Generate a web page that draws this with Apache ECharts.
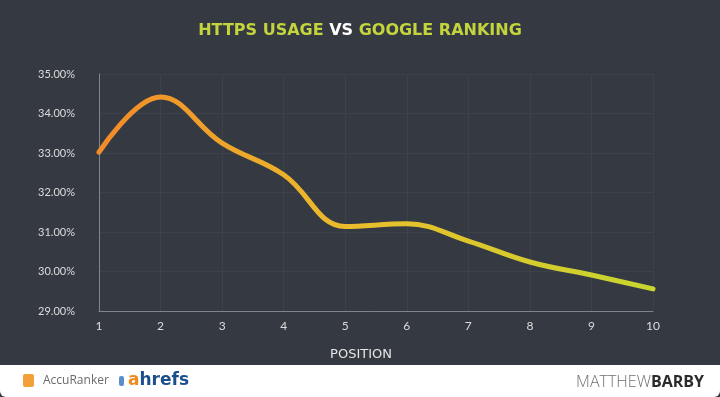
<!DOCTYPE html>
<html>
<head>
<meta charset="utf-8">
<script src="https://cdn.jsdelivr.net/npm/echarts@6/dist/echarts.min.js"></script>
<style>
  html, body { margin: 0; padding: 0; background: #353a42; }
  #chart { width: 720px; height: 397px; }
</style>
</head>
<body>
<div id="chart"></div>
<script>
// positions on the x axis
const positions = ['1', '2', '3', '4', '5', '6', '7', '8', '9', '10']
// share of results using https, in percent
const httpsUsage = [33.02, 34.42, 33.25, 32.45, 31.14, 31.21, 30.77, 30.24, 29.91, 29.56]

const chart = echarts.init(document.getElementById('chart'))
chart.setOption({
  backgroundColor: '#353a42',
  title: {
    left: 'center',
    top: 18,
    text: '{g|HTTPS USAGE }{w|VS}{g| GOOGLE RANKING}',
    textStyle: {
      rich: {
        g: { color: '#c4d43c', fontSize: 16, fontWeight: 'bold', fontFamily: 'DejaVu Sans' },
        w: { color: '#ffffff', fontSize: 16, fontWeight: 'bold', fontFamily: 'DejaVu Sans' }
      }
    }
  },
  grid: {
    left: 99,
    right: 67,
    top: 74,
    bottom: 86
  },
  xAxis: {
    type: 'category',
    data: positions,
    boundaryGap: false,
    name: 'POSITION',
    nameLocation: 'middle',
    nameGap: 37,
    nameTextStyle: { color: '#e6e6e6', fontSize: 13, fontFamily: 'DejaVu Sans', padding: [0, 30, 0, 0] },
    axisLine: { lineStyle: { color: '#80858c', width: 1 } },
    axisTick: { show: false },
    axisLabel: { color: '#dcdcdc', fontSize: 12, margin: 9, fontFamily: 'Lato' },
    splitLine: { show: true, lineStyle: { color: '#3d424a' } }
  },
  yAxis: {
    type: 'value',
    min: 29,
    max: 35,
    interval: 1,
    axisLine: { show: true, lineStyle: { color: '#80858c', width: 1 } },
    axisTick: { show: false },
    axisLabel: {
      color: '#dcdcdc',
      fontSize: 11,
      margin: 24,
      fontFamily: 'Lato',
      formatter: (v) => v.toFixed(2) + '%'
    },
    splitLine: { lineStyle: { color: '#3d424a' } }
  },
  series: [
    {
      type: 'line',
      data: httpsUsage,
      smooth: 0.4,
      symbol: 'none',
      lineStyle: {
        width: 5,
        cap: 'round',
        color: new echarts.graphic.LinearGradient(0, 0, 1, 0, [
          { offset: 0, color: '#f28a29' },
          { offset: 0.45, color: '#eabd2c' },
          { offset: 1, color: '#c8d62f' }
        ])
      }
    }
  ],
  graphic: [
    {
      type: 'rect',
      shape: { x: 0, y: 365, width: 720, height: 32, r: [0, 0, 6, 6] },
      style: { fill: '#ffffff' }
    },
    {
      type: 'rect',
      shape: { x: 23, y: 374, width: 11, height: 13, r: 2 },
      style: { fill: '#f2a03a' }
    },
    {
      type: 'text',
      style: { x: 43, y: 381, text: 'AccuRanker', fill: '#6b6b6b', font: '12px "Open Sans"', verticalAlign: 'middle' }
    },
    {
      type: 'rect',
      shape: { x: 119, y: 376, width: 5, height: 10, r: 2 },
      style: { fill: '#5b8ec9' }
    },
    {
      type: 'text',
      style: {
        x: 128, y: 381, verticalAlign: 'middle',
        text: '{a|a}{b|hrefs}',
        rich: {
          a: { fill: '#f08a1c', font: 'bold 17px "DejaVu Sans"' },
          b: { fill: '#1d4f8c', font: 'bold 17px "DejaVu Sans"' }
        }
      }
    },
    {
      type: 'text',
      style: {
        x: 704, y: 382, align: 'right', verticalAlign: 'middle',
        text: '{a|MATTHEW}{b|BARBY}',
        rich: {
          a: { fill: '#707070', font: '300 16px "Open Sans"' },
          b: { fill: '#2b2b2b', font: 'bold 16px "Open Sans"' }
        }
      }
    }
  ]
})
</script>
</body>
</html>
